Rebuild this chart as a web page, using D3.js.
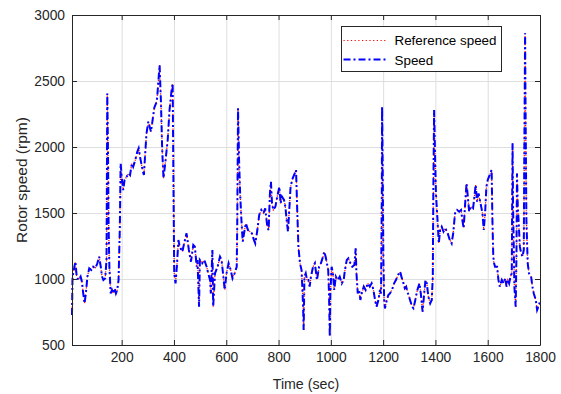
<!DOCTYPE html>
<html>
<head>
<meta charset="utf-8">
<script src="https://cdn.jsdelivr.net/npm/d3@7"></script>
<style>
    body { margin: 0; background: #fff; }
    svg { display: block; font-family: "Liberation Sans", Arial, sans-serif; }
    .axis text { font-size: 13.8px; fill: #262626; }
    .axis path, .axis line { stroke: #262626; }
    .grid line { stroke: #dedede; }
    .grid path { display: none; }
</style>
</head>
<body>
<div id="chart"></div>
<script>
// Thời gian (s) và tốc độ đặt (rpm)
const timeSec = [10, 12, 17, 23, 28, 35, 43, 48, 53, 58, 63, 69, 76, 84, 91, 99, 107, 114, 120, 125, 130, 137, 142, 145, 148, 150, 153, 158, 163, 168, 173, 178, 183, 188, 193, 196, 201, 206, 211, 219, 227, 232, 239, 244, 252, 260, 265, 270, 275, 280, 285, 290, 295, 302, 312, 318, 325, 334, 337, 345, 350, 355, 360, 368, 376, 383, 391, 395, 399, 401, 406, 411, 417, 422, 432, 439, 448, 457, 465, 474, 480, 487, 490, 496, 499, 508, 516, 525, 531, 538, 541, 547, 550, 557, 567, 576, 582, 589, 594, 601, 609, 617, 624, 632, 640, 642, 645, 649, 653, 658, 663, 668, 675, 683, 691, 698, 706, 711, 719, 726, 734, 742, 749, 757, 762, 767, 771, 775, 780, 788, 795, 803, 808, 813, 821, 826, 831, 836, 841, 846, 854, 862, 867, 871, 876, 882, 888, 894, 896, 899, 904, 909, 914, 919, 924, 932, 939, 947, 955, 962, 970, 975, 980, 985, 990, 993, 996, 998, 1003, 1008, 1013, 1019, 1026, 1034, 1042, 1049, 1054, 1061, 1067, 1075, 1082, 1090, 1095, 1098, 1103, 1108, 1113, 1118, 1126, 1133, 1141, 1149, 1156, 1163, 1169, 1175, 1182, 1188, 1192, 1195, 1196, 1198, 1201, 1204, 1207, 1214, 1220, 1226, 1234, 1242, 1249, 1257, 1265, 1270, 1278, 1283, 1288, 1295, 1303, 1311, 1316, 1323, 1331, 1339, 1344, 1349, 1351, 1357, 1362, 1367, 1373, 1380, 1386, 1390, 1392, 1395, 1399, 1402, 1408, 1413, 1418, 1424, 1431, 1438, 1447, 1455, 1462, 1468, 1475, 1483, 1491, 1498, 1503, 1508, 1513, 1519, 1524, 1529, 1536, 1544, 1549, 1554, 1559, 1565, 1570, 1575, 1580, 1585, 1590, 1595, 1600, 1605, 1610, 1615, 1618, 1621, 1623, 1628, 1636, 1641, 1646, 1654, 1661, 1667, 1672, 1677, 1682, 1687, 1692, 1695, 1697, 1700, 1702, 1707, 1710, 1712, 1715, 1718, 1723, 1728, 1733, 1738, 1740, 1743, 1745, 1748, 1753, 1758, 1766, 1771, 1776, 1784, 1789, 1794, 1800];
const refSpeed = [727, 1018, 1068, 1131, 1018, 992, 1018, 980, 891, 816, 891, 1018, 1081, 1068, 1093, 1081, 1119, 1169, 1093, 1018, 992, 1005, 1144, 2406, 1901, 1396, 1093, 891, 917, 891, 929, 891, 917, 992, 1396, 1876, 1750, 1674, 1750, 1775, 1801, 1788, 1876, 1851, 1901, 1965, 1990, 1927, 1876, 1826, 1788, 1952, 2104, 2192, 2116, 2200, 2300, 2343, 2406, 2621, 2356, 1977, 1763, 1901, 2053, 2280, 2432, 2482, 1498, 1043, 967, 1093, 1295, 1245, 1207, 1270, 1346, 1220, 1131, 1258, 1245, 1093, 1144, 790, 1144, 1119, 1144, 1093, 1043, 992, 891, 1220, 790, 1043, 1093, 1169, 1144, 1018, 917, 1043, 1119, 1068, 1005, 1043, 1093, 1396, 2293, 1901, 1649, 1447, 1283, 1346, 1422, 1371, 1359, 1346, 1295, 1270, 1371, 1485, 1523, 1498, 1535, 1396, 1371, 1649, 1737, 1573, 1523, 1548, 1624, 1699, 1573, 1624, 1599, 1548, 1447, 1359, 1523, 1699, 1763, 1801, 1826, 1550, 1245, 1119, 1068, 790, 613, 1018, 1043, 992, 992, 942, 1018, 1093, 1119, 992, 1093, 1119, 1169, 1207, 1169, 1119, 1068, 891, 563, 891, 1093, 1043, 917, 1018, 992, 1018, 967, 992, 1068, 1144, 1157, 1119, 1093, 1106, 1232, 1043, 891, 917, 841, 891, 942, 917, 967, 942, 967, 917, 841, 790, 841, 917, 891, 1649, 2305, 1901, 1144, 841, 778, 841, 879, 891, 917, 967, 992, 1030, 1056, 1018, 967, 929, 942, 891, 841, 790, 778, 841, 917, 967, 891, 790, 753, 891, 992, 967, 866, 816, 841, 1018, 1649, 2280, 1901, 1649, 1447, 1270, 1371, 1396, 1359, 1384, 1346, 1296, 1270, 1346, 1497, 1523, 1510, 1523, 1447, 1384, 1548, 1725, 1624, 1510, 1548, 1535, 1624, 1712, 1586, 1649, 1598, 1548, 1497, 1371, 1497, 1700, 1750, 1775, 1800, 1826, 1447, 1195, 1131, 1093, 1093, 993, 942, 993, 967, 1005, 942, 993, 967, 1018, 1043, 2028, 1548, 1195, 942, 790, 1195, 1800, 1548, 1447, 1245, 1195, 1169, 1220, 1952, 2861, 2205, 1447, 1119, 1043, 1018, 942, 892, 841, 765, 790, 828];
// Tốc độ đo bám sát tốc độ đặt, ở độ phân giải này hai đường trùng nhau
const speed = refSpeed;

const xTicks = [200, 400, 600, 800, 1000, 1200, 1400, 1600, 1800];
const yTicks = [500, 1000, 1500, 2000, 2500, 3000];
const legendLabels = ["Reference speed", "Speed"];

const width = 561, height = 394;
const margin = { top: 15, right: 21, bottom: 49, left: 72 };
const innerW = width - margin.left - margin.right;
const innerH = height - margin.top - margin.bottom;

const svg = d3.select("#chart")
    .append("svg")
    .attr("width", width)
    .attr("height", height);

const g = svg.append("g")
    .attr("transform", `translate(${margin.left},${margin.top})`);

const x = d3.scaleLinear().domain([10, 1800]).range([0, innerW]);
const y = d3.scaleLinear().domain([500, 3000]).range([innerH, 0]);

// Lưới
g.append("g")
    .attr("class", "grid")
    .attr("transform", `translate(0,${innerH})`)
    .call(d3.axisBottom(x).tickValues(xTicks).tickSize(-innerH).tickFormat(""));
g.append("g")
    .attr("class", "grid")
    .call(d3.axisLeft(y).tickValues(yTicks).tickSize(-innerW).tickFormat(""));

// Đường dữ liệu
const line = d3.line()
    .x((d, i) => x(timeSec[i]))
    .y(d => y(d));

g.append("path")
    .datum(refSpeed)
    .attr("fill", "none")
    .attr("stroke", "#ff0000")
    .attr("stroke-width", 1.2)
    .attr("stroke-dasharray", "1.2,2.5")
    .attr("d", line);

g.append("path")
    .datum(speed)
    .attr("fill", "none")
    .attr("stroke", "#0000ff")
    .attr("stroke-width", 2)
    .attr("stroke-dasharray", "7,3,2,3")
    .attr("d", line);

// Trục
g.append("g")
    .attr("class", "axis")
    .attr("transform", `translate(0,${innerH})`)
    .call(d3.axisBottom(x).tickValues(xTicks).tickFormat(d3.format("d"))
        .tickSizeInner(-5).tickSizeOuter(0).tickPadding(7));

g.append("g")
    .attr("class", "axis")
    .call(d3.axisLeft(y).tickValues(yTicks).tickFormat(d3.format("d"))
        .tickSizeInner(-5).tickSizeOuter(0).tickPadding(7));

g.append("g")
    .attr("class", "axis")
    .call(d3.axisTop(x).tickValues(xTicks).tickSizeInner(-5).tickSizeOuter(0).tickFormat(""));

g.append("g")
    .attr("class", "axis")
    .attr("transform", `translate(${innerW},0)`)
    .call(d3.axisRight(y).tickValues(yTicks).tickSizeInner(-5).tickSizeOuter(0).tickFormat(""));

g.selectAll(".axis text").attr("fill", "#262626");

// Nhãn trục
svg.append("text")
    .attr("x", margin.left + innerW / 2)
    .attr("y", 389)
    .attr("text-anchor", "middle")
    .attr("font-size", "14.2px")
    .attr("fill", "#262626")
    .text("Time (sec)");

svg.append("text")
    .attr("transform", `translate(27,${margin.top + innerH / 2}) rotate(-90)`)
    .attr("text-anchor", "middle")
    .attr("font-size", "15.5px")
    .attr("fill", "#262626")
    .text("Rotor speed (rpm)");

// Chú thích
const legend = svg.append("g")
    .attr("transform", "translate(341.5,26.5)");

legend.append("rect")
    .attr("width", 160)
    .attr("height", 45)
    .attr("fill", "#fff")
    .attr("stroke", "#262626")
    .attr("stroke-width", 1);

legend.append("line")
    .attr("x1", 2).attr("x2", 46)
    .attr("y1", 14).attr("y2", 14)
    .attr("stroke", "#ff0000")
    .attr("stroke-width", 1.2)
    .attr("stroke-dasharray", "1.2,2.5");

legend.append("line")
    .attr("x1", 2).attr("x2", 46)
    .attr("y1", 33).attr("y2", 33)
    .attr("stroke", "#0000ff")
    .attr("stroke-width", 2)
    .attr("stroke-dasharray", "7,3,2,3");

legend.selectAll(".label")
    .data(legendLabels)
    .enter()
    .append("text")
    .attr("class", "label")
    .attr("x", 53)
    .attr("y", (d, i) => 18.5 + i * 20)
    .attr("font-size", "13.4px")
    .attr("fill", "#000")
    .text(d => d);
</script>
</body>
</html>
